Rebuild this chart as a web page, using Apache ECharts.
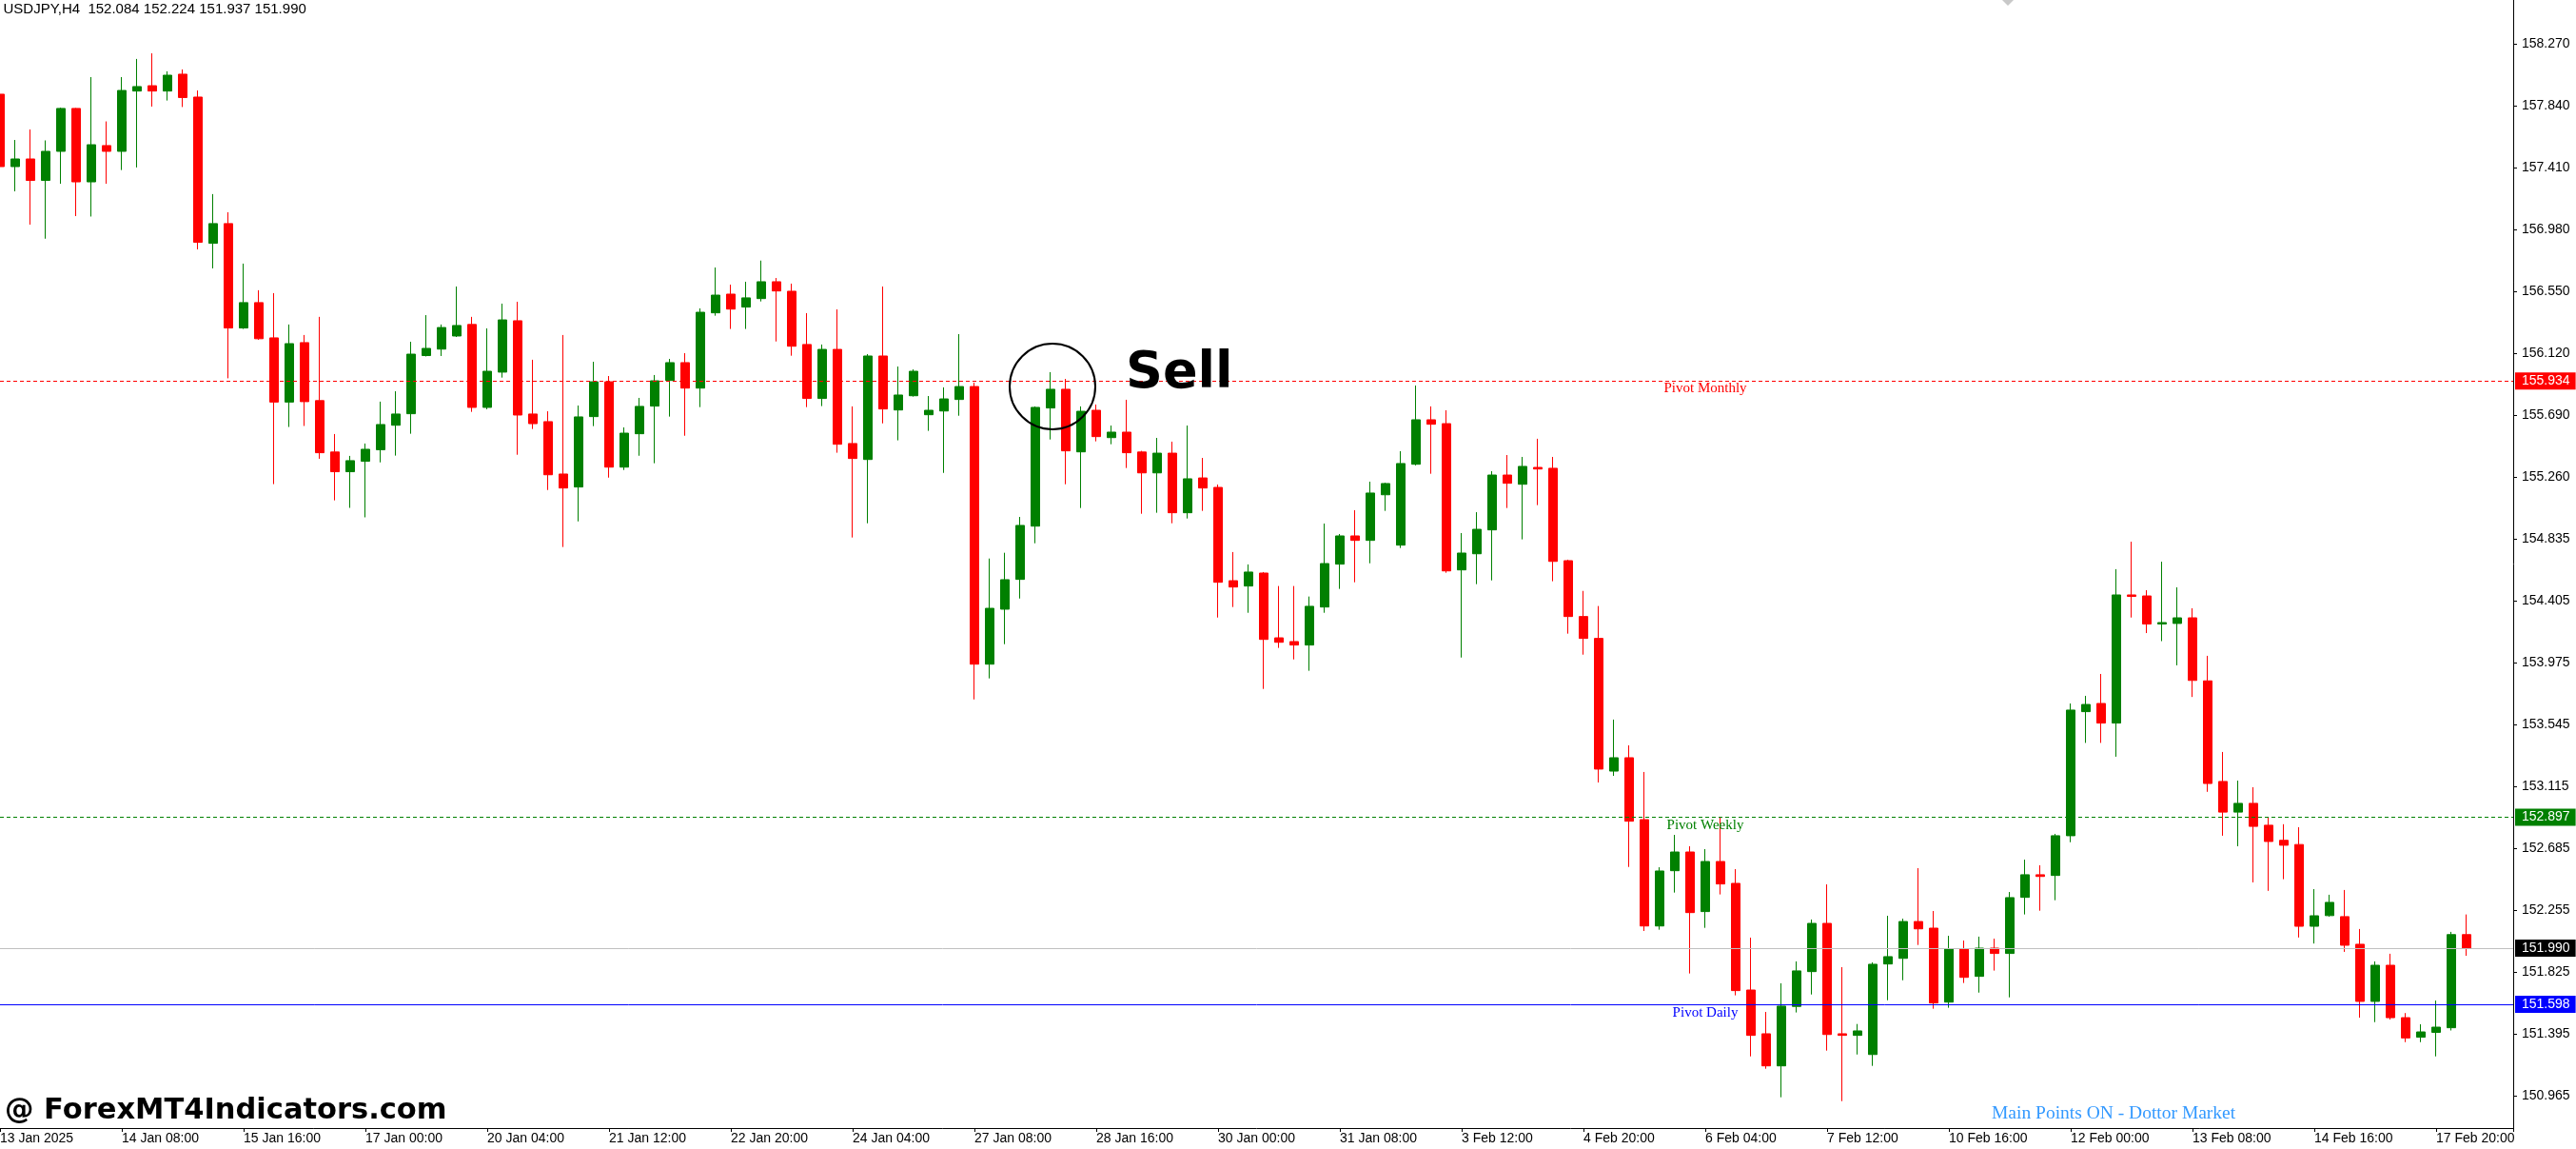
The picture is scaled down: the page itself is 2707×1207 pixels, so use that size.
<!DOCTYPE html>
<html><head><meta charset="utf-8">
<script src="https://cdn.jsdelivr.net/npm/echarts@6/dist/echarts.min.js"></script>
<style>html,body{margin:0;padding:0;background:#fff;overflow:hidden}#c{width:2707px;height:1207px}</style>
</head><body><div id="c"></div>
<script>
// ---------------- data ----------------
const symbolName = 'USDJPY,H4';
const opens = [157.923,157.420,157.473,157.324,157.526,157.824,157.314,157.566,157.526,157.945,157.982,157.945,158.062,157.903,156.887,157.024,156.299,156.475,156.230,155.784,156.197,155.794,155.437,155.300,155.373,155.453,155.623,155.703,156.107,156.152,156.243,156.323,155.747,155.992,156.349,155.701,155.648,155.284,155.194,155.683,155.925,155.332,155.564,155.756,155.934,156.058,155.881,156.404,156.534,156.444,156.503,156.620,156.554,156.184,155.809,156.150,155.496,155.385,156.104,155.729,155.828,155.696,155.722,155.802,155.892,153.963,154.345,154.552,154.922,155.743,155.873,155.438,155.727,155.537,155.575,155.437,155.292,155.429,155.015,155.257,155.191,154.543,154.506,154.596,154.146,154.120,154.096,154.360,154.658,154.854,154.823,155.140,154.790,155.352,155.661,155.634,154.618,154.730,154.896,155.277,155.213,155.330,155.324,154.682,154.294,154.142,153.220,153.313,152.883,152.144,152.528,152.658,152.244,152.592,152.440,151.699,151.395,151.172,151.585,151.827,152.162,151.395,151.384,151.251,151.880,151.919,152.175,152.129,151.615,151.984,151.794,151.990,151.953,152.343,152.500,152.495,152.771,153.633,153.690,153.554,154.444,154.437,154.242,154.246,154.285,153.847,153.148,152.935,152.996,152.844,152.739,152.710,152.142,152.216,152.209,152.017,151.620,151.871,151.507,151.371,151.405,151.437,152.084];
const closes = [157.420,157.473,157.324,157.526,157.824,157.314,157.572,157.526,157.949,157.976,157.945,158.055,157.900,156.894,157.024,156.299,156.475,156.224,155.784,156.190,155.787,155.432,155.300,155.377,155.456,155.628,155.701,156.117,156.157,156.302,156.316,155.747,155.998,156.355,155.694,155.634,155.279,155.187,155.681,155.925,155.332,155.568,155.754,155.932,156.058,155.881,156.408,156.527,156.430,156.508,156.620,156.556,156.172,155.809,156.150,155.491,155.392,156.104,155.736,155.833,155.998,155.727,155.806,155.892,153.963,154.351,154.550,154.927,155.747,155.873,155.445,155.720,155.544,155.575,155.432,155.292,155.429,155.015,155.251,155.187,154.532,154.499,154.603,154.135,154.115,154.096,154.365,154.662,154.854,154.823,155.152,155.218,155.357,155.661,155.630,154.611,154.735,154.900,155.277,155.220,155.337,155.319,154.677,154.294,154.142,153.234,153.313,152.872,152.144,152.526,152.658,152.237,152.592,152.436,151.695,151.384,151.172,151.587,151.832,152.162,151.390,151.384,151.415,151.878,151.931,152.175,152.124,151.609,151.984,151.787,151.990,151.953,152.341,152.500,152.488,152.771,153.644,153.683,153.554,154.444,154.434,154.242,154.252,154.285,153.850,153.134,152.935,152.996,152.836,152.731,152.705,152.142,152.215,152.308,152.010,151.620,151.871,151.507,151.366,151.408,151.441,152.084,151.990];
const highs = [157.949,157.605,157.678,157.602,157.830,157.827,158.042,157.734,158.042,158.168,158.207,158.082,158.095,157.949,157.229,157.103,156.746,156.561,156.541,156.323,156.250,156.376,155.562,155.410,155.496,155.787,155.859,156.203,156.388,156.323,156.587,156.376,156.296,156.468,156.481,156.078,155.720,156.250,155.760,156.064,155.965,155.608,155.813,155.972,156.084,156.124,156.435,156.719,156.600,156.620,156.767,156.646,156.607,156.402,156.184,156.428,155.754,156.117,156.587,156.031,156.011,155.826,155.886,156.256,155.919,154.697,154.737,154.986,155.754,155.992,155.945,155.754,155.767,155.621,155.800,155.445,155.535,155.509,155.621,155.396,155.211,154.742,154.656,154.603,154.506,154.506,154.433,154.940,154.867,155.033,155.231,155.224,155.443,155.899,155.754,155.727,154.874,155.019,155.304,155.416,155.403,155.529,155.403,154.689,154.472,154.367,153.578,153.399,153.214,152.552,152.777,152.698,152.678,152.903,152.539,152.063,151.547,151.746,151.898,152.189,152.433,151.858,151.463,151.891,152.215,152.195,152.546,152.248,152.076,152.043,152.070,152.056,152.380,152.605,152.566,152.784,153.690,153.743,153.895,154.623,154.814,154.477,154.675,154.497,154.351,154.021,153.353,153.154,153.108,152.903,152.851,152.830,152.400,152.361,152.394,152.123,151.898,151.951,151.539,151.461,151.626,152.103,152.224];
const lows = [157.400,157.248,157.017,156.919,157.301,157.076,157.073,157.301,157.396,157.414,157.837,157.879,157.834,156.845,156.713,155.949,156.292,156.217,155.214,155.611,155.618,155.390,155.101,155.049,154.983,155.365,155.412,155.564,156.101,156.104,156.236,155.716,155.734,155.954,155.418,155.597,155.173,154.777,154.955,155.617,155.259,155.312,155.411,155.359,155.683,155.550,155.749,156.384,156.292,156.292,156.483,156.205,156.106,155.749,155.756,155.432,154.843,154.942,155.636,155.518,155.822,155.584,155.292,155.689,153.718,153.864,154.102,154.419,154.803,155.524,155.213,155.048,155.511,155.491,155.326,155.008,155.015,154.942,154.975,155.028,154.287,154.360,154.320,153.791,154.076,153.996,153.917,154.320,154.486,154.532,154.664,155.028,154.770,155.344,155.286,154.598,154.009,154.519,154.545,155.048,154.830,155.068,154.539,154.175,154.029,153.141,153.187,152.554,152.109,152.118,152.376,151.814,152.131,152.363,151.662,151.238,151.152,150.954,151.543,151.668,151.278,150.927,151.251,151.172,151.628,151.767,152.012,151.569,151.576,151.748,151.681,151.834,151.648,152.224,152.250,152.323,152.726,153.416,153.416,153.320,154.287,154.179,154.123,153.955,153.735,153.076,152.771,152.698,152.447,152.388,152.469,152.064,152.022,152.209,151.964,151.507,151.476,151.494,151.337,151.337,151.238,151.418,151.937];
const timeLabels = ['13 Jan 2025','14 Jan 08:00','15 Jan 16:00','17 Jan 00:00','20 Jan 04:00','21 Jan 12:00','22 Jan 20:00','24 Jan 04:00','27 Jan 08:00','28 Jan 16:00','30 Jan 00:00','31 Jan 08:00','3 Feb 12:00','4 Feb 20:00','6 Feb 04:00','7 Feb 12:00','10 Feb 16:00','12 Feb 00:00','13 Feb 08:00','14 Feb 16:00','17 Feb 20:00'];
const barsPerLabel = 8;
const priceTicks = [158.270,157.840,157.410,156.980,156.550,156.120,155.690,155.260,154.835,154.405,153.975,153.545,153.115,152.685,152.255,151.825,151.395,150.965];
const pivotNames = ['Pivot Monthly','Pivot Weekly','Pivot Daily'];
const pivotValues = [155.934, 152.897, 151.598];

// ---------------- layout / style ----------------
const W = 2707, H = 1207;
const plotRight = 2641, plotBottom = 1185;
const pxPerBar = 16;
const yMax = 158.5775, yMin = 150.740;
const pivotColors = ['#FF0000', '#008000', '#0000FF'];
const pivotDash = [[4,3],[4,3],'solid'];
const pivotLabelCenter = 112; // in bar units
const SANS = 'Liberation Sans';
const SERIF = 'Liberation Serif';

const last = opens.length - 1;
const candles = opens.map((o, i) => [i, o, closes[i], lows[i], highs[i]]);
const bid = closes[last];

function priceBox(bg) {
  return {show: true, position: 'end', distance: 2, backgroundColor: bg, color: '#FFFFFF',
    fontFamily: SANS, fontSize: 14, lineHeight: 15, padding: [2, 6, 1, 7]};
}
const mlData = [];
pivotValues.forEach((v, k) => {
  mlData.push({yAxis: v, lineStyle: {color: pivotColors[k], type: pivotDash[k], width: 1},
    label: Object.assign(priceBox(pivotColors[k]), {formatter: v.toFixed(3)})});
  mlData.push([
    {coord: [pivotLabelCenter - 12, v], lineStyle: {color: 'transparent', width: 0},
      label: {show: true, position: 'insideMiddleBottom', distance: 1, formatter: pivotNames[k],
        color: pivotColors[k], fontFamily: SERIF, fontSize: 15}},
    {coord: [pivotLabelCenter + 12, v]}
  ]);
});
mlData.push({yAxis: bid, lineStyle: {color: '#C0C0C0', type: 'solid', width: 1},
  label: Object.assign(priceBox('#000000'), {formatter: bid.toFixed(3)})});

const header = symbolName + '  ' + [opens[last], highs[last], lows[last], closes[last]].map(v => v.toFixed(3)).join(' ');

const chart = echarts.init(document.getElementById('c'), null, {renderer: 'canvas', width: W, height: H});
chart.setOption({
  animation: false,
  backgroundColor: '#FFFFFF',
  grid: {left: 0, top: 0, right: W - plotRight, bottom: H - plotBottom, containLabel: false, outerBoundsMode: 'none', show: false},
  xAxis: {
    type: 'value', min: 0, max: plotRight / pxPerBar, interval: barsPerLabel,
    axisLine: {show: true, onZero: false, lineStyle: {color: '#000', width: 1}},
    axisTick: {show: true, length: 4, lineStyle: {color: '#000'}},
    axisLabel: {show: true, margin: 4, align: 'left', color: '#000', fontFamily: SANS, fontSize: 14,
      showMinLabel: true, showMaxLabel: true,
      formatter: v => (Math.abs(v % barsPerLabel) < 1e-6 && timeLabels[Math.round(v / barsPerLabel)]) || ''},
    splitLine: {show: false}
  },
  yAxis: {
    type: 'value', position: 'right', min: yMin, max: yMax,
    axisLine: {show: true, onZero: false, lineStyle: {color: '#000', width: 1}},
    axisTick: {show: true, length: 4, lineStyle: {color: '#000'}, customValues: priceTicks},
    axisLabel: {show: true, margin: 9, color: '#000', fontFamily: SANS, fontSize: 14,
      customValues: priceTicks, formatter: v => v.toFixed(3)},
    splitLine: {show: false}
  },
  series: [{
    type: 'candlestick',
    data: candles,
    clip: false,
    barWidth: 10,
    itemStyle: {color: '#008000', color0: '#FF0000', borderColor: '#008000', borderColor0: '#FF0000', borderColorDoji: '#008000', borderWidth: 1},
    emphasis: {disabled: true},
    markLine: {silent: true, animation: false, symbol: 'none', data: mlData}
  }],
  graphic: [
    {type: 'text', x: 3.5, y: 10, z: 100, style: {text: header, font: '15px "' + SANS + '"', fill: '#000',
      verticalAlign: 'middle', textVerticalAlign: 'middle'}},
    {type: 'polygon', z: 100, shape: {points: [[2104, 0], [2116, 0], [2110, 6]]}, style: {fill: '#C8C8C8'}},
    {type: 'circle', z: 100, shape: {cx: 1106, cy: 406, r: 45}, style: {fill: 'none', stroke: '#000', lineWidth: 2}},
    {type: 'text', x: 1183, y: 393, z: 100, style: {text: 'Sell', font: 'bold 54px "DejaVu Sans"', fill: '#000',
      verticalAlign: 'middle', textVerticalAlign: 'middle'}},
    {type: 'text', x: 5, y: 1167, z: 100, style: {text: '@ ForexMT4Indicators.com', font: 'bold 30.5px "DejaVu Sans"', fill: '#000',
      verticalAlign: 'middle', textVerticalAlign: 'middle'}},
    {type: 'text', x: 2093, y: 1170, z: 100, style: {text: 'Main Points ON - Dottor Market', font: '19.5px "' + SERIF + '"', fill: '#3399FF',
      verticalAlign: 'middle', textVerticalAlign: 'middle'}}
  ]
});
</script>
</body></html>
